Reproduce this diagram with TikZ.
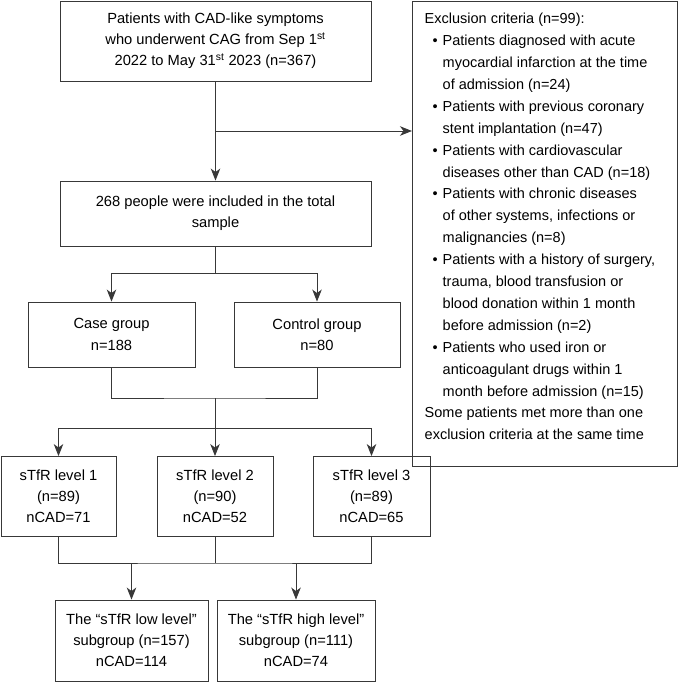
\documentclass[tikz,border=0pt]{standalone}
\usepackage{fontspec}
\setmainfont{Liberation Sans}
\usetikzlibrary{arrows.meta}
\newcommand{\bul}{\hspace*{8pt}\makebox[10pt][l]{•}}
\newcommand{\ind}{\hspace*{18pt}}
\begin{document}
\begin{tikzpicture}[x=1pt,y=-1pt,
  box/.style={draw=black!78, line width=0.9pt, inner sep=0pt, align=center,
    font=\fontsize{14.7}{21.2}\selectfont},
  conn/.style={draw=black!78, line width=0.9pt},
  arr/.style={conn, -{Stealth[length=12pt,width=9.5pt,inset=3.5pt]}}]
\useasboundingbox (0,0) rectangle (678,682);
\node[box, minimum width=311, minimum height=80] (top) at (215.5,41)
  {Patients with CAD-like symptoms\\who underwent CAG from Sep 1\textsuperscript{st}\\2022 to May 31\textsuperscript{st} 2023 (n=367)};
\node[box, minimum width=311, minimum height=65] (incl) at (215.5,213.5)
  {268 people were included in the total\\sample};
\node[box, minimum width=265, minimum height=465, anchor=north west] (excl) at (412,1) {};
\node[anchor=north west, align=left, inner sep=0pt,
  font=\fontsize{14.5}{21.9}\selectfont] (excltext) at (424.5,13)
  {Exclusion criteria (n=99):\\
   \bul Patients diagnosed with acute\\
   \ind myocardial infarction at the time\\
   \ind of admission (n=24)\\
   \bul Patients with previous coronary\\
   \ind stent implantation (n=47)\\
   \bul Patients with cardiovascular\\
   \ind diseases other than CAD (n=18)\\
   \bul Patients with chronic diseases\\
   \ind of other systems, infections or\\
   \ind malignancies (n=8)\\
   \bul Patients with a history of surgery,\\
   \ind trauma, blood transfusion or\\
   \ind blood donation within 1 month\\
   \ind before admission (n=2)\\
   \bul Patients who used iron or\\
   \ind anticoagulant drugs within 1\\
   \ind month before admission (n=15)\\
   Some patients met more than one\\
   exclusion criteria at the same time};
\node[box, minimum width=167, minimum height=65] (case) at (111.5,334.5) {Case group\\n=188};
\node[box, minimum width=166, minimum height=65] (control) at (317,334.5) {Control group\\n=80};
\node[box, minimum width=115, minimum height=80] (s1) at (58.5,496.5) {sTfR level 1\\(n=89)\\nCAD=71};
\node[box, minimum width=116, minimum height=80] (s2) at (215,496.5) {sTfR level 2\\(n=90)\\nCAD=52};
\node[box, minimum width=117, minimum height=80] (s3) at (371.5,496.5) {sTfR level 3\\(n=89)\\nCAD=65};
\node[box, minimum width=153, minimum height=81] (low) at (131.5,640.5) {The “sTfR low level”\\subgroup (n=157)\\nCAD=114};
\node[box, minimum width=158, minimum height=81] (high) at (296,640.5) {The “sTfR high level”\\subgroup (n=111)\\nCAD=74};
% connectors
\coordinate (b1) at (215.5,131);
\draw[arr] (top.south) -- (incl.north);
\draw[arr] (b1) -- (excl.west |- b1);
\coordinate (b2) at (215.5,273);
\draw[conn] (incl.south) -- (b2);
\draw[arr] (b2) -| (case.north);
\draw[arr] (b2) -| (control.north);
\coordinate (j1) at (215,398);
\coordinate (b3) at (215,428);
\draw[conn] (case.south) |- (j1) -| (control.south);
\draw[conn] (j1) -- (b3);
\draw[arr] (b3) -| (s1.north);
\draw[arr] (b3) -- (s2.north);
\draw[arr] (b3) -| (s3.north);
\coordinate (j2) at (215,563);
\draw[conn] (s1.south) |- (j2) -| (s3.south);
\draw[conn] (s2.south) -- (j2);
\coordinate (p1) at (low.north |- j2);
\coordinate (p2) at (high.north |- j2);
\draw[arr] (p1) -- (low.north);
\draw[arr] (p2) -- (high.north);
\end{tikzpicture}
\end{document}
